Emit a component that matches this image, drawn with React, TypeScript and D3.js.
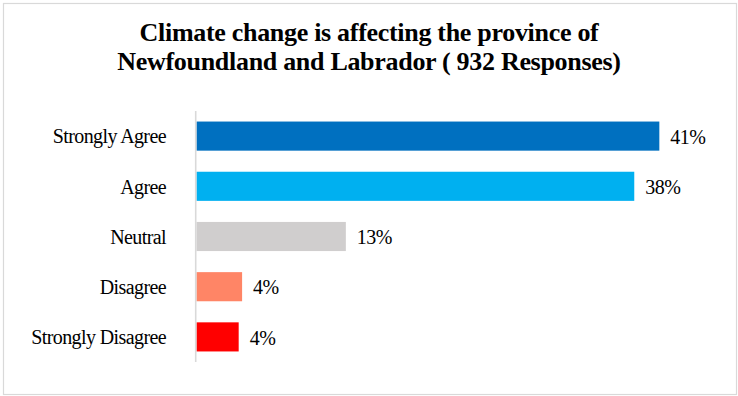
import React from "react";
import * as d3 from "d3";

const categories = ["Strongly Agree", "Agree", "Neutral", "Disagree", "Strongly Disagree"];
const values = [40.6, 38.4, 13.1, 4.0, 3.7];
const colors = ["#0070C0", "#00B0F0", "#D0CECE", "#FF8566", "#FF0000"];
const titleLines = [
  "Climate change is affecting the province of",
  "Newfoundland and Labrador ( 932 Responses)",
];

const W = 738;
const H = 396;

export default function App() {
  const x = d3.scaleLinear().domain([0, 45]).range([196.5, 709.5]);
  const y = d3
    .scaleBand<string>()
    .domain(categories)
    .range([111, 362])
    .paddingInner(0.42)
    .paddingOuter(0.21);
  const font = "'Liberation Serif', 'Times New Roman', serif";
  return (
    <div style={{ position: "fixed", left: 0, top: 0 }}>
      <svg width={W} height={H} style={{ display: "block" }}>
        <rect x={0} y={0} width={W} height={H} fill="#fff" />
        <rect x={3.5} y={3.5} width={733} height={391} fill="none" stroke="#D9D9D9" strokeWidth={1.2} />
        {titleLines.map((t, i) => (
          <text
            key={i}
            x={369}
            y={41 + i * 28.5}
            textAnchor="middle"
            fontFamily={font}
            fontWeight="bold"
            fontSize={26}
            letterSpacing={-0.3}
            fill="#000"
          >
            {t}
          </text>
        ))}
        {categories.map((c, i) => {
          const yy = y(c)!;
          const bw = y.bandwidth();
          return (
            <g key={c}>
              <rect x={x(0)} y={yy} width={x(values[i]) - x(0)} height={bw} fill={colors[i]} />
              <text
                x={x(values[i]) + 11}
                y={yy + bw / 2}
                dy="0.38em"
                fontFamily={font}
                fontSize={20}
                letterSpacing={-0.5}
                fill="#000"
              >
                {Math.round(values[i]) + "%"}
              </text>
              <text
                x={166}
                y={yy + bw / 2}
                dy="0.36em"
                textAnchor="end"
                fontFamily={font}
                fontSize={20}
                letterSpacing={-0.6}
                fill="#000"
              >
                {c}
              </text>
            </g>
          );
        })}
        <line x1={x(0) - 0.8} x2={x(0) - 0.8} y1={111} y2={362} stroke="#D9D9D9" strokeWidth={1.6} />
      </svg>
    </div>
  );
}
